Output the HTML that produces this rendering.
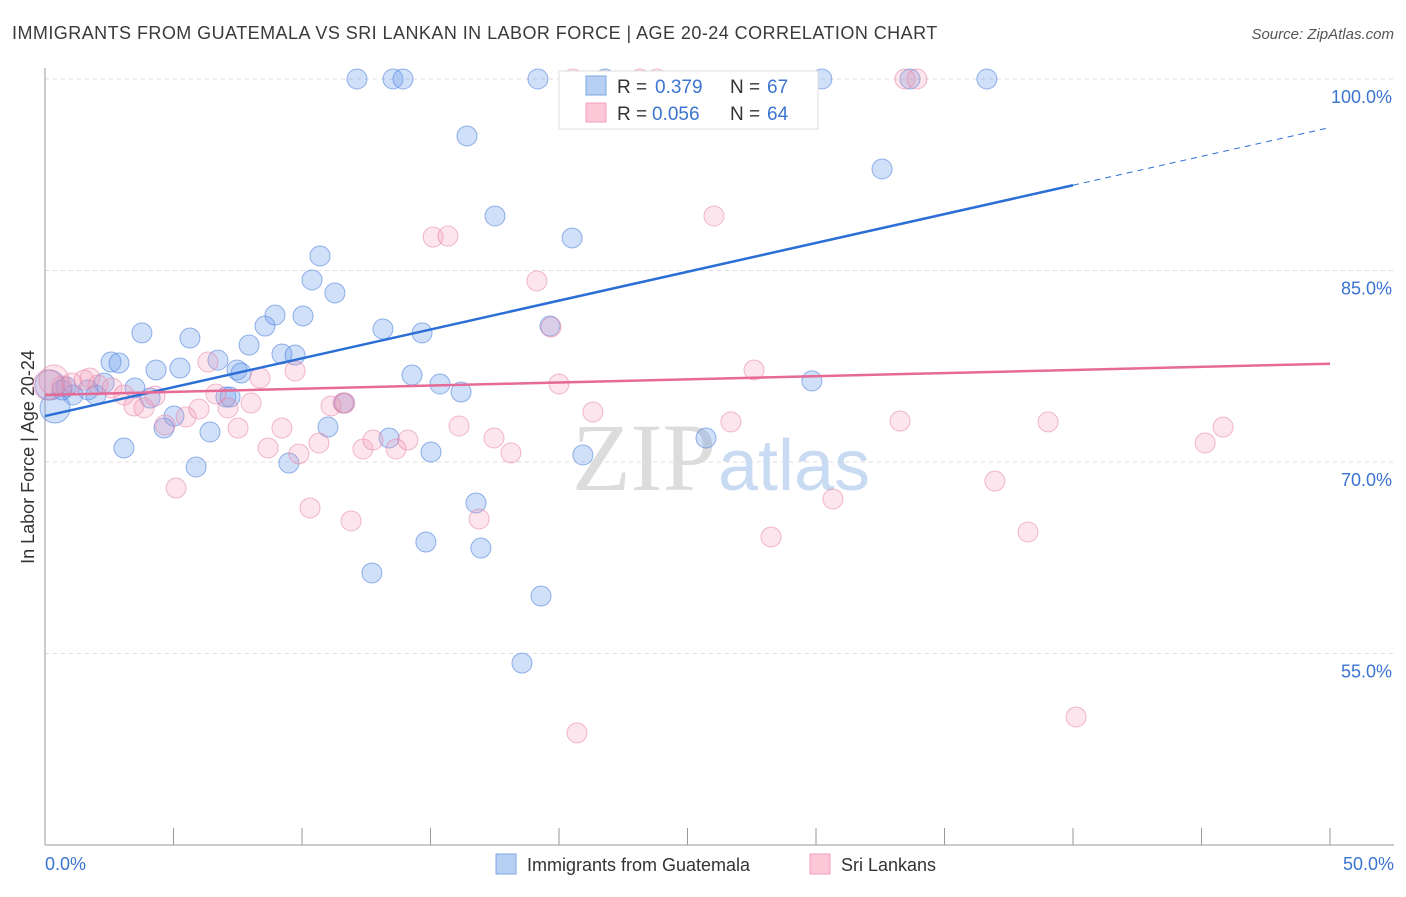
<!DOCTYPE html>
<html><head><meta charset="utf-8"><style>
body{margin:0;background:#fff;font-family:"Liberation Sans",sans-serif}
</style></head><body>
<svg width="1406" height="892" xmlns="http://www.w3.org/2000/svg">
<text x="12" y="39" font-size="18" fill="#3a3a3a" letter-spacing="0.45">IMMIGRANTS FROM GUATEMALA VS SRI LANKAN IN LABOR FORCE | AGE 20-24 CORRELATION CHART</text>
<text x="1394" y="39" font-size="15" fill="#555" font-style="italic" text-anchor="end">Source: ZipAtlas.com</text>
<g id="grid"></g>
<text x="716" y="490" font-size="96" fill="#dcdcdc" text-anchor="end" font-family="Liberation Serif">ZIP</text>
<text x="718" y="490" font-size="72" fill="#c9dbf2">atlas</text>
<line x1="45" y1="68" x2="45" y2="845" stroke="#999"/>
<line x1="45" y1="845" x2="1394" y2="845" stroke="#999"/>
<text transform="translate(34,457) rotate(-90)" font-size="18" fill="#333" text-anchor="middle">In Labor Force | Age 20-24</text>
<text x="45" y="870" font-size="18" fill="#3b74d0">0.0%</text>
<text x="1394" y="870" font-size="18" fill="#3b74d0" text-anchor="end">50.0%</text>
<g id="pts"></g>
<g id="lines"></g>
<g>
<rect x="559" y="71" width="259" height="58" fill="#fff" stroke="#ddd"/>
<rect x="586" y="76" width="20" height="19" fill="#b7cff3" stroke="#7ea6e6"/>
<rect x="586" y="103" width="20" height="19" fill="#fcc8d8" stroke="#f0a0bb"/>
<text x="617" y="93" font-size="19" fill="#333">R =</text>
<text x="655" y="93" font-size="19" fill="#3b74d0">0.379</text>
<text x="730" y="93" font-size="19" fill="#333">N =</text>
<text x="767" y="93" font-size="19" fill="#3b74d0">67</text>
<text x="617" y="120" font-size="19" fill="#333">R =</text>
<text x="652" y="120" font-size="19" fill="#3b74d0">0.056</text>
<text x="730" y="120" font-size="19" fill="#333">N =</text>
<text x="767" y="120" font-size="19" fill="#3b74d0">64</text>
</g>
<g>
<rect x="496" y="854" width="20" height="20" fill="#b7cff3" stroke="#7ea6e6"/>
<text x="527" y="871" font-size="18" fill="#333">Immigrants from Guatemala</text>
<rect x="810" y="854" width="20" height="20" fill="#fcc8d8" stroke="#f0a0bb"/>
<text x="841" y="871" font-size="18" fill="#333">Sri Lankans</text>
</g>
</svg>
<script>
const yTicks=[100,85,70,55];
const yTickLabels=["100.0%","85.0%","70.0%","55.0%"];
const blueX=[12.14,13.54,13.93,19.18,21.79,30.23,33.66,36.65,16.42,32.57,17.51,20.51,10.70,10.39,11.28,3.77,5.64,8.56,8.95,10.04,13.15,14.67,19.65,7.94,2.57,2.88,4.32,5.25,6.73,7.47,7.63,9.22,9.73,14.28,15.37,16.19,29.84,3.50,2.30,0.82,1.98,1.09,4.09,5.02,4.63,6.42,7.04,0.39,0.19,3.07,5.88,9.49,11.01,11.63,13.39,15.02,20.93,25.72,16.77,14.82,16.96,12.72,19.30,18.56,0.66,1.67,7.20];
const blueY=[100,100,100,100,100,100,100,100,95.54,92.95,89.27,87.55,86.14,84.26,83.24,80.11,79.71,80.65,81.51,81.44,80.42,80.11,80.65,79.16,77.83,77.75,77.21,77.36,77.98,77.21,76.97,78.46,78.38,76.81,76.11,75.48,76.35,75.80,76.19,75.88,75.25,75.25,75.01,73.60,72.66,72.35,75.09,74.23,76.03,71.10,69.61,69.92,72.74,74.62,71.88,70.78,70.55,71.88,66.79,63.73,63.26,61.31,59.50,54.25,75.64,75.64,75.09];
const pinkX=[20.54,23.15,23.81,33.46,33.93,26.03,15.10,15.68,19.14,19.69,6.34,8.37,9.73,27.59,20.00,0.35,0.66,1.05,1.52,2.06,2.61,3.07,3.46,3.85,4.28,5.49,5.99,6.65,7.12,7.51,8.02,8.68,9.22,9.88,10.66,11.13,11.60,12.37,12.76,13.66,14.12,16.11,17.47,18.13,21.32,26.69,33.27,39.03,45.14,45.84,36.96,30.66,16.89,10.31,11.91,28.25,38.25,5.10,40.12,20.70,0.12,1.75,4.67,11.67];
const pinkY=[100,100,100,100,100,89.27,87.62,87.70,84.18,80.57,77.83,76.58,77.13,77.21,76.11,76.42,75.95,76.19,76.42,76.03,75.80,75.25,74.39,74.23,75.17,73.53,74.15,75.33,74.23,72.66,74.62,71.10,72.66,70.63,71.49,74.39,74.62,71.02,71.72,71.02,71.72,72.82,71.88,70.71,73.92,73.14,73.21,73.14,71.49,72.74,68.51,67.10,65.54,66.40,65.38,64.13,64.52,67.96,50.03,48.78,76.03,76.58,72.90,74.62];
const blueTrend=[73.6,0.452];
const pinkTrend=[75.25,0.049];
const NS="http://www.w3.org/2000/svg";
const X=v=>45+v/50*1285, Y=v=>79+(100-v)*191.5/15;
function mk(t,a,p){const e=document.createElementNS(NS,t);for(const k in a)e.setAttribute(k,a[k]);p.appendChild(e);return e;}
const grid=document.getElementById('grid');
yTicks.forEach((t,i)=>{
 const l=mk('line',{x1:45,x2:1394,y1:Y(t),y2:Y(t),stroke:'#ddd','stroke-dasharray':'4,4'},grid);
 
 
 const tx=mk('text',{x:1392,y:Y(t)+24,'font-size':18,fill:'#3b74d0','text-anchor':'end'},grid);
 tx.textContent=yTickLabels[i];
 
 
});
for(let i=0;i<=10;i++){
 const tk=mk('line',{x1:X(i*5),x2:X(i*5),y1:828,y2:845,stroke:'#999'},grid);
 
 
}
const pts=document.getElementById('pts');
blueX.forEach((x,i)=>{
 const r=(x<0.5)?15:10;
 const c=mk('circle',{cx:X(x),cy:Y(blueY[i]),r:r,fill:'rgba(110,160,235,0.32)',stroke:'rgba(80,130,220,0.6)','stroke-width':1},pts);
 
 
});
pinkX.forEach((x,i)=>{
 const r=(x<0.5)?15:10;
 const c=mk('circle',{cx:X(x),cy:Y(pinkY[i]),r:r,fill:'rgba(245,150,180,0.25)',stroke:'rgba(230,120,160,0.5)','stroke-width':1},pts);
 
 
});
const lines=document.getElementById('lines');
const f=(t,x)=>t[0]+t[1]*x;
let b=mk('line',{x1:X(0),y1:Y(f(blueTrend,0)),x2:X(40),y2:Y(f(blueTrend,40)),stroke:'#2b6fd6','stroke-width':2.5},lines);


let bd=mk('line',{x1:X(40),y1:Y(f(blueTrend,40)),x2:X(50),y2:Y(f(blueTrend,50)),stroke:'#2b6fd6','stroke-width':1,'stroke-dasharray':'6,5'},lines);


let p=mk('line',{x1:X(0),y1:Y(f(pinkTrend,0)),x2:X(50),y2:Y(f(pinkTrend,50)),stroke:'#e66a95','stroke-width':2.5},lines);


</script>
</body></html>
